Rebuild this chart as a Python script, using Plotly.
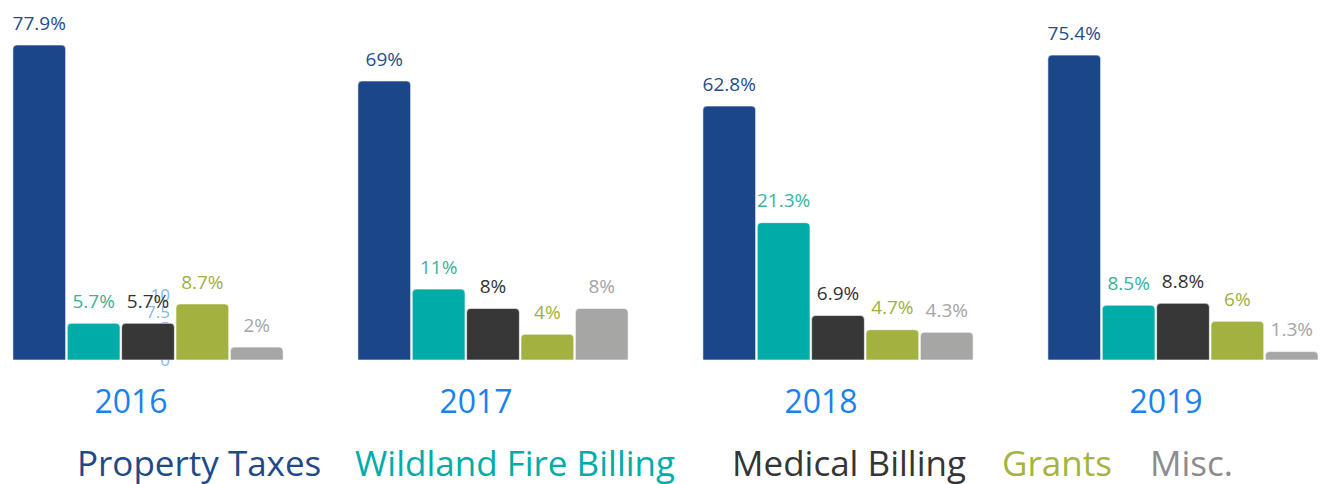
import plotly.graph_objects as go

# revenue share per year (percent)
years = ["2016", "2017", "2018", "2019"]
property_taxes = [77.9, 69, 62.8, 75.4]
wildland_fire = [5.7, 11, 21.3, 8.5]
medical_billing = [5.7, 8, 6.9, 8.8]
grants = [8.7, 4, 4.7, 6]
misc = [2, 8, 4.3, 1.3]

series_names = ["Property Taxes", "Wildland Fire Billing", "Medical Billing", "Grants", "Misc."]
series_values = [property_taxes, wildland_fire, medical_billing, grants, misc]
bar_colors = ["#1b4788", "#00aca8", "#373737", "#a3b141", "#a6a6a5"]
label_colors = ["#1f4e8c", "#3bb29b", "#333333", "#9fb03f", "#a5a5a5"]
legend_colors = ["#1f4a8a", "#00aca8", "#353535", "#a3b440", "#8c8c90"]
legend_x = [0.1449, 0.3847, 0.638, 0.796, 0.898]

FONT = "Open Sans"

fig = go.Figure()
for i, (name, vals) in enumerate(zip(series_names, series_values)):
    fig.add_trace(go.Bar(
        x=years, y=vals, name=name,
        yaxis="y" if i == 0 else "y2",
        alignmentgroup="all", offsetgroup=str(i),
        marker=dict(color=bar_colors[i], cornerradius=4,
                    line=dict(color="rgba(255,255,255,0.6)", width=1)),
        # small second line lifts the label a bit off the bar
        texttemplate="<span style='font-size:19px'>%{y}%</span><br> ",
        textposition="outside", constraintext="none",
        textfont=dict(family=FONT, size=8, color=label_colors[i]),
        cliponaxis=False, showlegend=False,
    ))

# legend drawn as coloured text
for name, col, lx in zip(series_names, legend_colors, legend_x):
    fig.add_annotation(text=name, x=lx, y=-0.2926, xref="paper", yref="paper",
                       showarrow=False, xanchor="center", yanchor="middle",
                       font=dict(family=FONT, size=35, color=col))

fig.update_layout(
    width=1318, height=484,
    margin=dict(l=0, r=0, t=0, b=132, autoexpand=False),
    paper_bgcolor="white", plot_bgcolor="white",
    barmode="group", bargap=0.212, bargroupgap=0.03,
    xaxis=dict(type="category", range=[-0.4058, 3.4145], showgrid=False,
               zeroline=False, showline=False, ticks="", automargin=False,
               tickfont=dict(family=FONT, size=32, color="#1a82ee"),
               ticklabelshift=-17, ticklabelstandoff=20),
    yaxis=dict(range=[0, 87.05], showgrid=False, zeroline=False, automargin=False,
               showticklabels=False, showline=False),
    yaxis2=dict(range=[0, 54.6], overlaying="y", anchor="free", position=0.1229,
                side="left", tickvals=[0, 2.5, 5, 7.5, 10], showgrid=False,
                zeroline=False, showline=False, layer="below traces", automargin=False,
                tickfont=dict(family=FONT, size=17, color="#7fb9ee")),
)

fig.write_html("out.html")
